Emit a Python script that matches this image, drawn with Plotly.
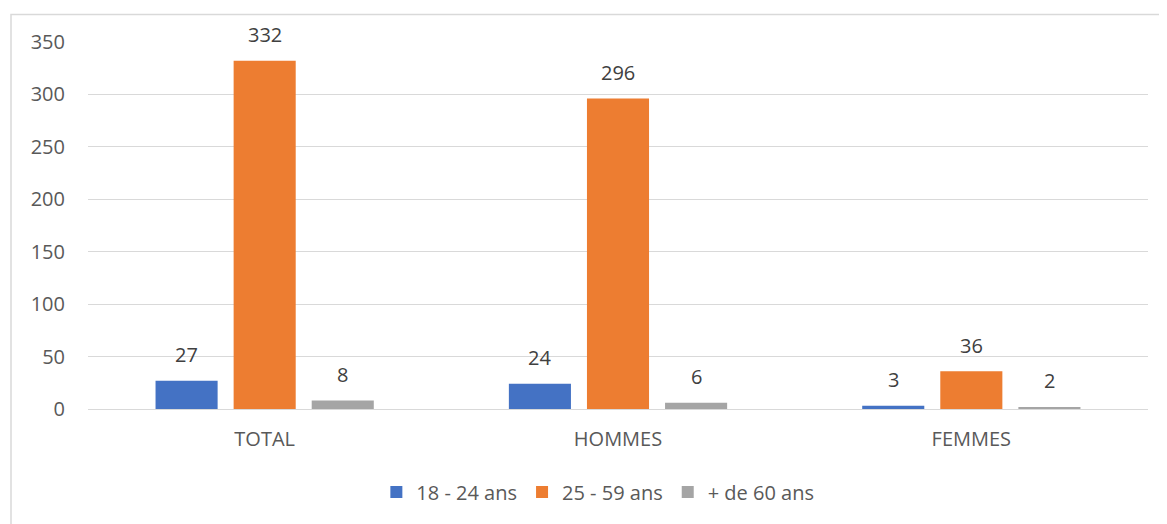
import plotly.graph_objects as go

categories = ["TOTAL", "HOMMES", "FEMMES"]
series_names = ["18 - 24 ans", "25 - 59 ans", "+ de 60 ans"]
values_18_24 = [27, 24, 3]
values_25_59 = [332, 296, 36]
values_60 = [8, 6, 2]
colors = ["#4472C4", "#ED7D31", "#A5A5A5"]
y_ticks = [0, 50, 100, 150, 200, 250, 300, 350]

OFF = 8  # browser body margin
W, H = 1167 - OFF, 524 - OFF
ml, mr, mt, mb = 88 - OFF, 19, 42 - OFF, 110
pw = W - ml - mr
ph = H - mt - mb

FONT = "Open Sans"
TXT = "#595959"
FS = 20

fig = go.Figure()
all_series = [values_18_24, values_25_59, values_60]
for name, vals, col in zip(series_names, all_series, colors):
    fig.add_trace(go.Bar(x=categories, y=vals, name=name, marker_color=col,
                         marker_line_width=0))

# data labels as annotations
slot = pw / len(categories) * (1 - 0.337) / 3
for i, vals in enumerate(all_series):
    for c, v in zip(categories, vals):
        fig.add_annotation(x=c, y=v, xref="x", yref="y", text=str(v),
                           showarrow=False, xshift=(i - 1) * slot, yshift=26,
                           font=dict(family=FONT, size=FS, color="#404040"))

# chart border
fig.add_shape(type="rect", xref="paper", yref="paper",
              x0=(3 - ml) / pw, x1=(W + 20 - ml) / pw,
              y0=-(H + 20 - mt - ph) / ph, y1=(ph + mt - 6) / ph,
              line=dict(color="#D9D9D9", width=1.5), fillcolor="rgba(0,0,0,0)", layer="below")

fig.update_layout(
    width=W, height=H,
    margin=dict(l=ml, r=mr, t=mt, b=mb),
    barmode="group", bargap=0.337, bargroupgap=0.205,
    plot_bgcolor="white", paper_bgcolor="white",
    font=dict(family=FONT, size=FS, color=TXT),
    xaxis=dict(showgrid=False, showline=False, ticks="", ticklabelstandoff=16,
               tickfont=dict(size=FS, color=TXT)),
    yaxis=dict(range=[0, 350], tickvals=y_ticks, showgrid=True, gridcolor="#D9D9D9",
               gridwidth=1, zeroline=True, zerolinecolor="#D9D9D9", zerolinewidth=1,
               showline=False, ticks="", ticklabelstandoff=22,
               tickfont=dict(size=FS, color=TXT)),
    legend=dict(orientation="h", x=0.481, xanchor="center", y=-0.226, yanchor="middle",
                font=dict(size=FS, color=TXT), itemwidth=30, traceorder="normal"),
    showlegend=True,
)
fig.write_html("out.html")
